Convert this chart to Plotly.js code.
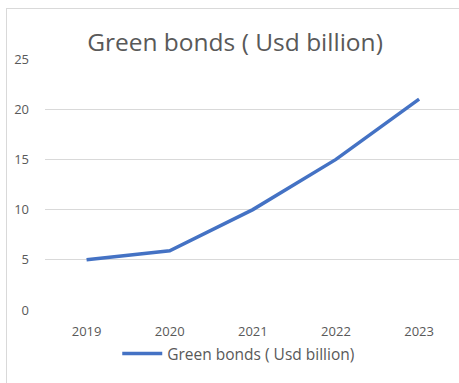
<!DOCTYPE html>
<html>
<head>
<meta charset="utf-8">
<script src="https://cdn.plot.ly/plotly-3.0.1.min.js"></script>
<style>
html,body{margin:0;padding:0;background:#fff;overflow:hidden;}
#frame{position:absolute;left:6px;top:8px;width:460px;height:380px;border-left:1px solid #d9d9d9;border-top:1px solid #d9d9d9;pointer-events:none;}
#chart{position:absolute;left:0;top:0;width:459px;height:383px;}
</style>
</head>
<body>
<div id="chart"></div>
<div id="frame"></div>
<script>
const years = ['2019', '2020', '2021', '2022', '2023'];
const greenBonds = [5, 5.9, 10, 15, 21];
const seriesName = 'Green bonds ( Usd billion)';
const chartTitle = 'Green bonds ( Usd billion)';
const yTicks = [0, 5, 10, 15, 20, 25];

const gray = '#595959';
const font = 'Open Sans, Liberation Sans, Arial, sans-serif';

Plotly.newPlot('chart', [{
  x: years,
  y: greenBonds,
  name: seriesName,
  type: 'scatter',
  mode: 'lines',
  line: {color: '#4472C4', width: 3.5},
  showlegend: true
}], {
  width: 459,
  height: 383,
  margin: {l: 45, r: 0, t: 59, b: 73},
  paper_bgcolor: '#fff',
  plot_bgcolor: '#fff',
  font: {family: font, color: gray, size: 13},
  title: {text: chartTitle, font: {size: 24.5, color: gray, family: font}, x: 0.512, xanchor: 'center', y: 0.89, yanchor: 'middle', xref: 'container', yref: 'container'},
  xaxis: {
    type: 'category',
    range: [-0.5, 4.48],
    showgrid: false,
    showline: false,
    zeroline: false,
    ticks: '',
    ticklabelstandoff: 12,
    tickfont: {size: 13, color: gray}
  },
  yaxis: {
    range: [0, 25],
    tickvals: yTicks,
    showgrid: true,
    gridcolor: '#d9d9d9',
    gridwidth: 1,
    zeroline: false,
    showline: false,
    ticks: '',
    ticklabelstandoff: 15,
    tickfont: {size: 13, color: gray}
  },
  showlegend: true,
  legend: {orientation: 'h', x: 0.468, xanchor: 'center', y: -0.175, yanchor: 'middle', itemwidth: 40, font: {size: 15.5, color: gray}}
}, {displayModeBar: false, staticPlot: true});
</script>
</body>
</html>
